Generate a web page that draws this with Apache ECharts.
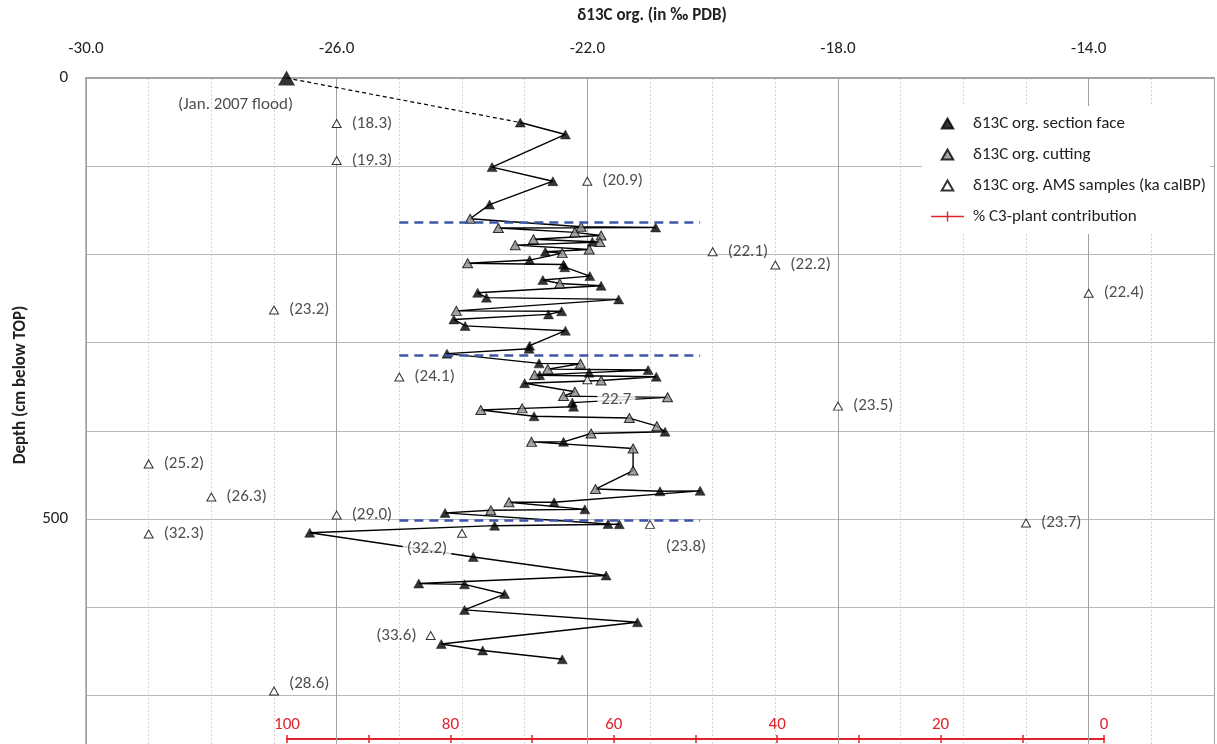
<!DOCTYPE html>
<html><head><meta charset="utf-8">
<script src="https://cdn.jsdelivr.net/npm/echarts@6/dist/echarts.min.js"></script>
<style>html,body{margin:0;padding:0;background:#fff}#c{width:1217px;height:744px}</style>
</head><body><div id="c"></div>
<script>
// ---------------- DATA ----------------
// Depth profile (section face 'S' and cutting 'C'), in sampling / depth order
const profileD13C = [-23.07,-22.35,-23.52,-22.55,-23.56,-23.87,-22.10,-20.91,-23.42,-22.20,
  -21.78,-22.86,-21.92,-21.80,-23.15,-21.97,-22.67,-22.40,-22.92,-23.91,
  -22.38,-22.36,-21.96,-22.71,-22.44,-21.78,-23.75,-23.61,-21.50,-24.09,
  -22.41,-22.62,-24.13,-23.95,-22.35,-22.92,-22.93,-24.24,-22.77,-22.11,
  -22.63,-21.03,-21.97,-22.84,-22.76,-20.90,-21.78,-23.00,-22.20,-22.38,
  -20.72,-22.24,-22.22,-23.04,-23.70,-22.85,-21.33,-20.89,-20.76,-21.94,
  -22.38,-22.89,-21.27,-21.27,-21.87,-20.84,-20.20,-22.53,-23.25,-22.04,
  -23.54,-24.27,-21.67,-21.49,-23.48,-26.43,-23.82,-21.70,-24.69,-23.96,
  -23.32,-23.96,-21.20,-24.33,-23.67,-22.40];
const profileDepth = [50.5,64,101,117,143.5,159.5,168.6,169.5,170,175,
  178.5,182.8,185.6,186,189.5,194.5,197,198.5,206.4,210,
  211.5,214.5,224.6,229,233,235.5,243.5,249,251,264,
  264.5,268,273.7,281,286.5,303.5,307,312.5,323.5,324,
  330,331,334,336.8,337,338.7,343,346,355.7,360.6,
  362,368,372.6,374.5,376.3,383.5,385.5,394.7,401,403,
  412.5,412.5,420,445,466,468.5,468,481,481,489,
  490,493,505.6,505.8,507.5,515.5,543,564,573,574,
  585,603,617,641.7,649,659];
const profileType = ['S','S','S','S','S','C','C','S','C','C',
  'C','C','S','C','C','C','S','C','S','C',
  'S','S','S','S','C','S','S','S','S','C',
  'S','S','S','S','S','S','S','S','S','C',
  'C','S','S','C','S','S','C','S','C','C',
  'C','S','S','C','C','S','C','C','S','C',
  'S','C','C','C','C','S','S','S','C','S',
  'C','S','S','S','S','S','S','S','S','S',
  'S','S','S','S','S','S'];
// Jan. 2007 flood sample
const floodD13C = [-26.8];
const floodDepth = [0];
// AMS samples (age labels in ka calBP)
const amsD13C  = [-26.0,-26.0,-22.0,-20.0,-19.0,-14.0,-27.0,-25.0,-22.0,-18.0,-29.0,-28.0,-26.0,-15.0,-21.0,-29.0,-24.0,-24.5,-27.0];
const amsDepth = [51.5,93.5,117,197,212,244,263,339,342,372,437.5,475,495.5,504.5,506,517,516,632,695];
const amsAge   = ['(18.3)','(19.3)','(20.9)','(22.1)','(22.2)','(22.4)','(23.2)','(24.1)','22.7','(23.5)','(25.2)','(26.3)','(29.0)','(23.7)','(23.8)','(32.3)','(32.2)','(33.6)','(28.6)'];
// unit boundaries (blue dashed)
const boundaryDepth = [164, 314.5, 501];
const boundaryRange = [-25.0, -20.2];
// axis ticks
const d13cMajorTicks = [-30, -26, -22, -18, -14];
const depthLabels = [0, 500];
const c3Labels = [100, 80, 60, 40, 20, 0];

// ---------------- CHART ----------------
const FONT = 'Carlito, Lato, "Open Sans", sans-serif';
const RED = '#e0242c';
const TXT = '#222';
const FS = 17;
const chart = echarts.init(document.getElementById('c'), null, {renderer: 'canvas'});

const profileLine = profileD13C.map((x, i) => [x, profileDepth[i]]);
const sectionData = [], cuttingData = [];
profileType.forEach((t, i) => (t === 'S' ? sectionData : cuttingData).push([profileD13C[i], profileDepth[i]]));

const amsLabelStyle = {
  '22.7':   {position: 'inside', offset: [29, 20], backgroundColor: '#fff', padding: [0, 4]},
  '(23.8)': {position: 'inside', offset: [36, 22]},
  '(32.2)': {position: 'inside', offset: [-35, 16], backgroundColor: '#fff', padding: [0, 4]},
  '(33.6)': {position: 'left', distance: 9},
  '(28.6)': {position: 'right', distance: 10, offset: [0, -7]}
};
const amsData = amsD13C.map((x, i) => {
  const extra = amsLabelStyle[amsAge[i]] || {position: 'right', distance: 10};
  return {value: [x, amsDepth[i]], label: Object.assign({show: true, formatter: amsAge[i], color: TXT, fontSize: FS, fontFamily: FONT}, extra)};
});

const floodData = floodD13C.map((x, i) => ({
  value: [x, floodDepth[i]],
  label: {show: true, formatter: '(Jan. 2007 flood)', position: 'inside', offset: [-51, 27], color: TXT, fontSize: FS, fontFamily: FONT}
}));

const triIcon = 'path://M5,0L10,8.7L0,8.7Z';
const c3Icon = 'path://M0,4.3L33,4.3L33,5.7L0,5.7Z M15.8,0L17.2,0L17.2,10L15.8,10Z';

const option = {
  animation: false,
  backgroundColor: '#fff',
  grid: [
    {left: 86, right: 0, top: 78, bottom: 0},
    {left: 287, width: 817, top: 700, height: 39}
  ],
  xAxis: [
    { // main top axis
      type: 'value', gridIndex: 0, position: 'top', min: -30, max: -12, interval: 4,
      axisLine: {show: true, lineStyle: {color: '#a3a3a3', width: 2}},
      axisTick: {show: false},
      axisLabel: {margin: 21, fontSize: FS, color: TXT, fontFamily: FONT,
        formatter: v => d13cMajorTicks.indexOf(v) >= 0 ? v.toFixed(1) : ''},
      splitLine: {show: true, lineStyle: {color: '#a0a0a0', width: 1}},
      z: 1
    },
    { // minor gridlines
      type: 'value', gridIndex: 0, position: 'top', min: -30, max: -12, interval: 1,
      axisLine: {show: false}, axisTick: {show: false}, axisLabel: {show: false},
      splitLine: {show: true, lineStyle: {color: '#d4d4d4', width: 1, type: [2, 2]}},
      z: 0
    },
    { // % C3 axis, outer ticks + labels
      type: 'value', gridIndex: 1, position: 'bottom', min: 0, max: 100, interval: 10, inverse: true,
      axisLine: {show: true, lineStyle: {color: RED, width: 2}},
      axisTick: {show: true, length: 4, lineStyle: {color: RED, width: 1.5}},
      axisLabel: {inside: true, margin: 6, color: RED, fontSize: FS, fontFamily: FONT,
        formatter: v => c3Labels.indexOf(v) >= 0 ? String(v) : ''},
      splitLine: {show: false}
    },
    { // % C3 axis, inner ticks
      type: 'value', gridIndex: 1, position: 'bottom', min: 0, max: 100, interval: 10, inverse: true,
      axisLine: {show: false},
      axisTick: {show: true, inside: true, length: 4, lineStyle: {color: RED, width: 1.5}},
      axisLabel: {show: false}, splitLine: {show: false}
    }
  ],
  yAxis: [
    {
      type: 'value', gridIndex: 0, inverse: true, min: 0, max: 755, interval: 100,
      axisLine: {show: true, lineStyle: {color: '#a3a3a3', width: 1.5}},
      axisTick: {show: false},
      axisLabel: {margin: 18, fontSize: FS, color: TXT, fontFamily: FONT,
        formatter: v => depthLabels.indexOf(v) >= 0 ? String(v) : ''},
      splitLine: {show: true, lineStyle: {color: '#b8b8b8', width: 1}}
    },
    {type: 'value', gridIndex: 1, min: 0, max: 1, show: false}
  ],
  legend: {
    orient: 'vertical', left: 922, top: 106, padding: [8, 4, 8, 9],
    backgroundColor: '#fff', itemWidth: 33, itemHeight: 10, itemGap: 12,
    symbolKeepAspect: true,
    textStyle: {fontSize: FS, color: TXT, fontFamily: FONT, lineHeight: 19, padding: [0, 0, 0, 4]},
    selectedMode: false,
    data: [
      {name: 'δ13C org. section face', icon: triIcon},
      {name: 'δ13C org. cutting', icon: triIcon},
      {name: 'δ13C org. AMS samples (ka calBP)', icon: triIcon},
      {name: '% C3-plant contribution', icon: c3Icon}
    ]
  },
  graphic: [
    {type: 'text', x: 652, y: 16, z: 10,
      style: {text: 'δ13C org. (in ‰ PDB)', font: 'bold 17px ' + FONT, fill: TXT, align: 'center', verticalAlign: 'middle'}},
    {type: 'text', x: 21, y: 385, rotation: Math.PI / 2, z: 10,
      style: {text: 'Depth (cm below TOP)', font: 'bold 17px ' + FONT, fill: TXT, align: 'center', verticalAlign: 'middle'}}
  ],
  series: [
    {
      type: 'line', name: 'profile', xAxisIndex: 0, yAxisIndex: 0, data: profileLine,
      symbol: 'none', lineStyle: {color: '#000', width: 1.4}, z: 2, silent: true
    },
    {
      type: 'line', name: 'flood link', xAxisIndex: 0, yAxisIndex: 0,
      data: [[floodD13C[0], floodDepth[0]], profileLine[0]],
      symbol: 'none', lineStyle: {color: '#000', width: 1.2, type: [4, 3]}, z: 2, silent: true,
      markLine: {
        silent: true, symbol: ['none', 'none'], label: {show: false},
        lineStyle: {color: '#3f55a8', width: 2.5, type: [9, 6]},
        data: boundaryDepth.map(d => [{coord: [boundaryRange[0], d]}, {coord: [boundaryRange[1], d]}])
      }
    },
    {
      type: 'scatter', name: 'δ13C org. section face', xAxisIndex: 0, yAxisIndex: 0,
      data: sectionData, symbol: 'triangle', symbolSize: [10, 9],
      itemStyle: {color: '#000', borderColor: '#000', borderWidth: 0.5}, z: 4
    },
    {
      type: 'scatter', name: 'δ13C org. section face', xAxisIndex: 0, yAxisIndex: 0,
      data: floodData, symbol: 'triangle', symbolSize: [17, 15],
      itemStyle: {color: '#000'}, z: 4
    },
    {
      type: 'scatter', name: 'δ13C org. cutting', xAxisIndex: 0, yAxisIndex: 0,
      data: cuttingData, symbol: 'triangle', symbolSize: [10, 9],
      itemStyle: {color: '#8c8c8c', borderColor: '#000', borderWidth: 1}, z: 4
    },
    {
      type: 'scatter', name: 'δ13C org. AMS samples (ka calBP)', xAxisIndex: 0, yAxisIndex: 0,
      data: amsData, symbol: 'triangle', symbolSize: [9, 8],
      itemStyle: {color: '#fff', borderColor: '#000', borderWidth: 1}, z: 5
    },
    {
      type: 'line', name: '% C3-plant contribution', xAxisIndex: 2, yAxisIndex: 1,
      data: [], itemStyle: {color: RED}, lineStyle: {color: RED}
    }
  ]
};
chart.setOption(option);
</script>
</body></html>
